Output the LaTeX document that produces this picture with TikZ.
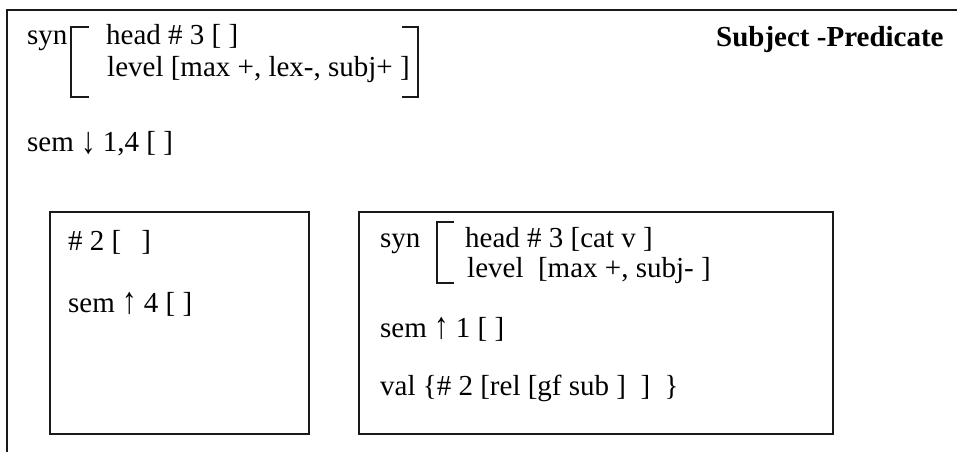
\documentclass[tikz,border=0pt]{standalone}
\usepackage{fontspec}
\usepackage{graphicx}
\setmainfont{Liberation Serif}
\newcommand{\dnarr}{\raisebox{-2.5pt}{\scalebox{1}[1.3]{↓}}}
\newcommand{\uparr}{\raisebox{-1pt}{\scalebox{1}[1.3]{↑}}}
\begin{document}
\begin{tikzpicture}[x=1pt,y=-1pt,
  txt/.style={anchor=base west,inner sep=0pt,font=\fontsize{29}{30}\selectfont},
  frame/.style={line width=1.8pt,draw=black!90},
  brk/.style={line width=1.5pt,draw=black!90}]
\useasboundingbox (0,0) rectangle (957,452);
% outer frame (open at right and bottom)
\draw[frame] (7,452) -- (7,10) -- (957,10);
% top feature structure
\node[txt] (syn) at (27,45) {syn};
\node[txt] (head) at (106,45) {head \# 3 [ ]};
\node[txt] (lev) at (107,76) {level [max +, lex-, subj+ ]};
\draw[brk] (89,27) -- (71,27) -- (71,97) -- (89,97);
\draw[brk] (402,27) -- (418,27) -- (418,97) -- (402,97);
\node[txt] (sem) at (27,151) {sem \dnarr\ 1,4 [ ]};
\node[txt,font=\fontsize{29}{30}\selectfont\bfseries] (title) at (716,47) {Subject -Predicate};
% left daughter
\draw[frame] (50,212) rectangle (309,434);
\node[txt] (l1) at (68,250) {\# 2 [\hspace{20pt}]};
\node[txt] (l2) at (68,312) {sem \uparr\ 4 [ ]};
% right daughter
\draw[frame] (359,212) rectangle (833,434);
\node[txt] (r0) at (380,247) {syn};
\draw[brk] (454,222) -- (437,222) -- (437,283) -- (454,283);
\node[txt] (r1) at (465,247) {head \# 3 [cat v ]};
\node[txt] (r2) at (467,277) {level\ \ [max +, subj- ]};
\node[txt] (r3) at (380,337) {sem \uparr\ 1 [ ]};
\node[txt] (r4) at (380,395) {val \{\# 2 [rel [gf sub ]\ \ ]\ \ \}};
\end{tikzpicture}
\end{document}
